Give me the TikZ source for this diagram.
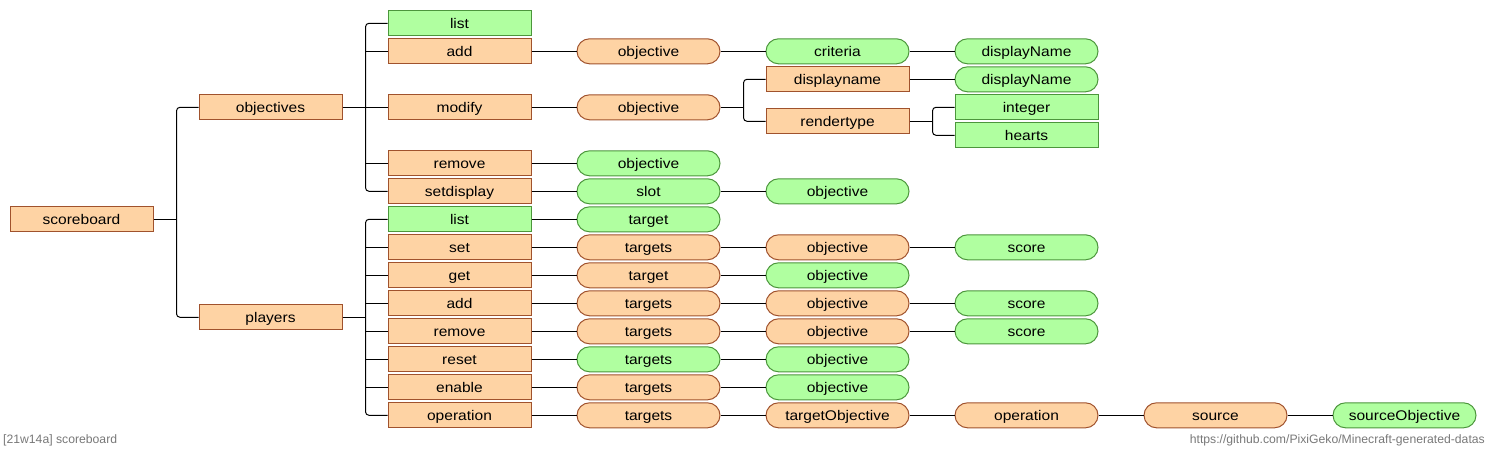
\documentclass[tikz,border=0pt]{standalone}
\usepackage{fontspec}
\setmainfont{Liberation Sans}[FakeStretch=1.11]
\newfontfamily\footfont{Liberation Sans}
\usetikzlibrary{calc}
\definecolor{ofill}{RGB}{254,211,164}
\definecolor{odraw}{RGB}{160,82,45}
\definecolor{gfill}{RGB}{176,255,160}
\definecolor{gdraw}{RGB}{76,150,60}
\definecolor{foot}{RGB}{120,120,120}
\begin{document}
\begin{tikzpicture}[x=1pt,y=-1pt,
  base/.style={minimum width=143pt,minimum height=25pt,inner sep=0pt,line width=1pt,
    text height=12pt,text depth=2pt,
    font=\fontsize{14}{16}\selectfont},
  lit/.style={base,draw=odraw,fill=ofill},
  litg/.style={base,draw=gdraw,fill=gfill},
  arg/.style={base,draw=odraw,fill=ofill,rounded corners=12.5pt},
  argg/.style={base,draw=gdraw,fill=gfill,rounded corners=12.5pt},
  wire/.style={line width=1pt,black},
  fork/.style={wire,rounded corners=3.5pt},
  footer/.style={text=foot,inner sep=0pt,font=\footfont\fontsize{12.2}{14}\selectfont}]
\useasboundingbox (0,0) rectangle (1487,451);
% rows: y = 23.3 + 28 i
% column 0/1
\node[lit] (scoreboard) at (81.5,219.3) {scoreboard};
\node[lit] (objectives) at (270.5,107.3) {objectives};
\node[lit] (players) at (270.5,317.3) {players};
% objectives branch
\node[litg] (olist) at (459.5,23.3) {list};
\node[lit] (oadd) at (459.5,51.3) {add};
\node[lit] (omodify) at (459.5,107.3) {modify};
\node[lit] (oremove) at (459.5,163.3) {remove};
\node[lit] (osetdisplay) at (459.5,191.3) {setdisplay};
\node[arg] (addobj) at (648.5,51.3) {objective};
\node[argg] (addcrit) at (837.5,51.3) {criteria};
\node[argg] (adddisp) at (1026.5,51.3) {displayName};
\node[arg] (modobj) at (648.5,107.3) {objective};
\node[lit] (moddispname) at (837.5,79.3) {displayname};
\node[argg] (moddispval) at (1026.5,79.3) {displayName};
\node[lit] (modrender) at (837.5,121.3) {rendertype};
\node[litg] (modint) at (1026.5,107.3) {integer};
\node[litg] (modhearts) at (1026.5,135.3) {hearts};
\node[argg] (remobj) at (648.5,163.3) {objective};
\node[argg] (setslot) at (648.5,191.3) {slot};
\node[argg] (setobj) at (837.5,191.3) {objective};
% players branch
\node[litg] (plist) at (459.5,219.3) {list};
\node[argg] (plisttarget) at (648.5,219.3) {target};
\node[lit] (pset) at (459.5,247.3) {set};
\node[arg] (psettargets) at (648.5,247.3) {targets};
\node[arg] (psetobj) at (837.5,247.3) {objective};
\node[argg] (psetscore) at (1026.5,247.3) {score};
\node[lit] (pget) at (459.5,275.3) {get};
\node[arg] (pgettarget) at (648.5,275.3) {target};
\node[argg] (pgetobj) at (837.5,275.3) {objective};
\node[lit] (padd) at (459.5,303.3) {add};
\node[arg] (paddtargets) at (648.5,303.3) {targets};
\node[arg] (paddobj) at (837.5,303.3) {objective};
\node[argg] (paddscore) at (1026.5,303.3) {score};
\node[lit] (prem) at (459.5,331.3) {remove};
\node[arg] (premtargets) at (648.5,331.3) {targets};
\node[arg] (premobj) at (837.5,331.3) {objective};
\node[argg] (premscore) at (1026.5,331.3) {score};
\node[lit] (preset) at (459.5,359.3) {reset};
\node[argg] (presettargets) at (648.5,359.3) {targets};
\node[argg] (presetobj) at (837.5,359.3) {objective};
\node[lit] (penable) at (459.5,387.3) {enable};
\node[arg] (penabletargets) at (648.5,387.3) {targets};
\node[argg] (penableobj) at (837.5,387.3) {objective};
\node[lit] (pop) at (459.5,415.3) {operation};
\node[arg] (poptargets) at (648.5,415.3) {targets};
\node[arg] (poptobj) at (837.5,415.3) {targetObjective};
\node[arg] (popop) at (1026.5,415.3) {operation};
\node[arg] (popsrc) at (1215.5,415.3) {source};
\node[argg] (popsrcobj) at (1404.5,415.3) {sourceObjective};
% junction points
\coordinate (jsb) at ($(scoreboard.east)+(23,0)$);
\coordinate (jobj) at ($(objectives.east)+(23,0)$);
\coordinate (jpl) at ($(players.east)+(23,0)$);
\coordinate (jmod) at ($(modobj.east)+(23,0)$);
\coordinate (jrend) at ($(modrender.east)+(23,0)$);
% forks
\draw[wire] (scoreboard.east) -- (jsb);
\draw[fork] (objectives.west) -| (jsb |- players.west) -- (players.west);
\draw[wire] (objectives.east) -- (jobj);
\draw[fork] (olist.west) -| (jobj |- osetdisplay.west) -- (osetdisplay.west);
\draw[wire] (jobj |- oadd.west) -- (oadd.west);
\draw[wire] (jobj |- omodify.west) -- (omodify.west);
\draw[wire] (jobj |- oremove.west) -- (oremove.west);
\draw[wire] (players.east) -- (jpl);
\draw[fork] (plist.west) -| (jpl |- pop.west) -- (pop.west);
\foreach \c in {pset,pget,padd,prem,preset,penable}
  \draw[wire] (jpl |- \c.west) -- (\c.west);
\draw[wire] (modobj.east) -- (jmod);
\draw[fork] (moddispname.west) -| (jmod |- modrender.west) -- (modrender.west);
\draw[wire] (modrender.east) -- (jrend);
\draw[fork] (modint.west) -| (jrend |- modhearts.west) -- (modhearts.west);
% straight links
\draw[wire] (oadd) -- (addobj);
\draw[wire] (addobj) -- (addcrit);
\draw[wire] (addcrit) -- (adddisp);
\draw[wire] (omodify) -- (modobj);
\draw[wire] (moddispname) -- (moddispval);
\draw[wire] (oremove) -- (remobj);
\draw[wire] (osetdisplay) -- (setslot);
\draw[wire] (setslot) -- (setobj);
\draw[wire] (plist) -- (plisttarget);
\draw[wire] (pset) -- (psettargets);
\draw[wire] (psettargets) -- (psetobj);
\draw[wire] (psetobj) -- (psetscore);
\draw[wire] (pget) -- (pgettarget);
\draw[wire] (pgettarget) -- (pgetobj);
\draw[wire] (padd) -- (paddtargets);
\draw[wire] (paddtargets) -- (paddobj);
\draw[wire] (paddobj) -- (paddscore);
\draw[wire] (prem) -- (premtargets);
\draw[wire] (premtargets) -- (premobj);
\draw[wire] (premobj) -- (premscore);
\draw[wire] (preset) -- (presettargets);
\draw[wire] (presettargets) -- (presetobj);
\draw[wire] (penable) -- (penabletargets);
\draw[wire] (penabletargets) -- (penableobj);
\draw[wire] (pop) -- (poptargets);
\draw[wire] (poptargets) -- (poptobj);
\draw[wire] (poptobj) -- (popop);
\draw[wire] (popop) -- (popsrc);
\draw[wire] (popsrc) -- (popsrcobj);
% footer
\node[footer,anchor=west] (ftl) at (3,440.5) {[21w14a] scoreboard};
\node[footer,anchor=east] (ftr) at (1485,440.5) {https://github.com/PixiGeko/Minecraft-generated-datas};
\end{tikzpicture}
\end{document}
